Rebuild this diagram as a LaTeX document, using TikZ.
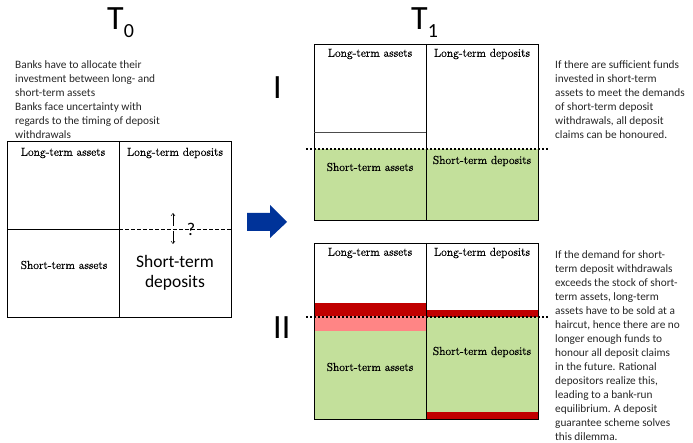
\documentclass[tikz,border=0pt]{standalone}
\usepackage{fontspec}
\setmainfont{Carlito}
\newfontfamily\labfont[FakeBold=0.6]{Latin Modern Roman}
\usetikzlibrary{arrows.meta}
\definecolor{lgreen}{HTML}{C3E09B}
\definecolor{dred}{HTML}{C00000}
\definecolor{pinkish}{HTML}{FF8585}
\definecolor{navy}{HTML}{003399}
\definecolor{txtgray}{HTML}{262626}
\begin{document}
\begin{tikzpicture}[x=1pt,y=-1pt,
  lab/.style={font=\labfont\fontsize{11.6}{13}\selectfont, inner sep=0pt},
  para/.style={font=\fontsize{11.3}{14}\selectfont, text=txtgray, align=left, inner sep=0pt, anchor=north west},
  title/.style={font=\fontsize{34}{34}\selectfont, inner sep=0pt, anchor=base west},
  cellline/.style={line width=0.8pt},
  dotline/.style={line width=2.2pt, dash pattern=on 2pt off 2pt},
  small arrow/.style={line width=0.5pt, -{Straight Barb[length=2.5pt,width=4pt]}}
]
\useasboundingbox (0,0) rectangle (693,443);
% titles
\node[title] (t0) at (107,30) {T\raisebox{-8pt}{\fontsize{20}{20}\selectfont 0}};
\node[title] (t1) at (411,30) {T\raisebox{-8pt}{\fontsize{20}{20}\selectfont 1}};
\node[title] (lI) at (273,99) {I};
\node[title] (lII) at (273,339) {II};
% left text
\node[para] (txt0) at (15,60) {Banks have to allocate their\\investment between long- and\\short-term assets\\Banks face uncertainty with\\regards to the timing of deposit\\withdrawals};
% T0 box
\draw[cellline] (7,141) rectangle (231,317);
\draw[cellline] (119,141) -- (119,317);
\draw[cellline] (7,229) -- (119,229);
\draw[line width=0.6pt, dash pattern=on 3.5pt off 2.5pt] (119,229) -- (231,229);
\node[lab] (a0) at (63,153) {Long-term assets};
\node[lab] (b0) at (175,153) {Long-term deposits};
\node[lab] (c0) at (64,265) {Short-term assets};
\node[font=\fontsize{17.5}{20}\selectfont, align=center, inner sep=0pt] (d0) at (175,273) {Short-term\\deposits};
\coordinate (ua) at (173,226);
\coordinate (ub) at (173,213);
\coordinate (da) at (173,231);
\coordinate (db) at (173,244);
\draw[small arrow] (ua) -- (ub);
\draw[small arrow] (da) -- (db);
\node[font=\fontsize{18}{18}\selectfont, inner sep=0pt] (q) at (191,229) {?};
% blue arrow
\fill[navy] (247,213) -- (270,213) -- (270,205) -- (287,222) -- (270,238) -- (270,231) -- (247,231) -- cycle;
% T1 I
\fill[lgreen] (314,149) rectangle (538,220);
\draw[cellline] (314,44) rectangle (538,220);
\draw[cellline] (426,44) -- (426,220);
\draw[cellline, black!70] (314,132) -- (426,132);
\draw[dotline] (306,149) -- (548,149);
\node[lab] (a1) at (370,54) {Long-term assets};
\node[lab] (b1) at (482,54) {Long-term deposits};
\node[lab] (c1) at (370,167) {Short-term assets};
\node[lab] (d1) at (482,161) {Short-term deposits};
% T1 II
\fill[dred] (314,303) rectangle (426,316);
\fill[pinkish] (314,316) rectangle (426,331);
\fill[lgreen] (314,331) rectangle (426,419);
\fill[dred] (426,310) rectangle (538,317);
\fill[lgreen] (426,317) rectangle (538,412);
\fill[dred] (426,412) rectangle (538,419);
\draw[cellline] (314,243) rectangle (538,419);
\draw[cellline] (426,243) -- (426,419);
\draw[dotline] (306,317) -- (548,317);
\node[lab] (a2) at (370,253) {Long-term assets};
\node[lab] (b2) at (482,253) {Long-term deposits};
\node[lab] (c2) at (370,367) {Short-term assets};
\node[lab] (d2) at (482,352) {Short-term deposits};
% right texts
\node[para] (txt1) at (555,60) {If there are sufficient funds\\invested in short-term\\assets to meet the demands\\of short-term deposit\\withdrawals, all deposit\\claims can be honoured.};
\node[para] (txt2) at (555,250) {If the demand for short-\\term deposit withdrawals\\exceeds the stock of short-\\term assets, long-term\\assets have to be sold at a\\haircut, hence there are no\\longer enough funds to\\honour all deposit claims\\in the future. Rational\\depositors realize this,\\leading to a bank-run\\equilibrium. A deposit\\guarantee scheme solves\\this dilemma.};
\end{tikzpicture}
\end{document}
